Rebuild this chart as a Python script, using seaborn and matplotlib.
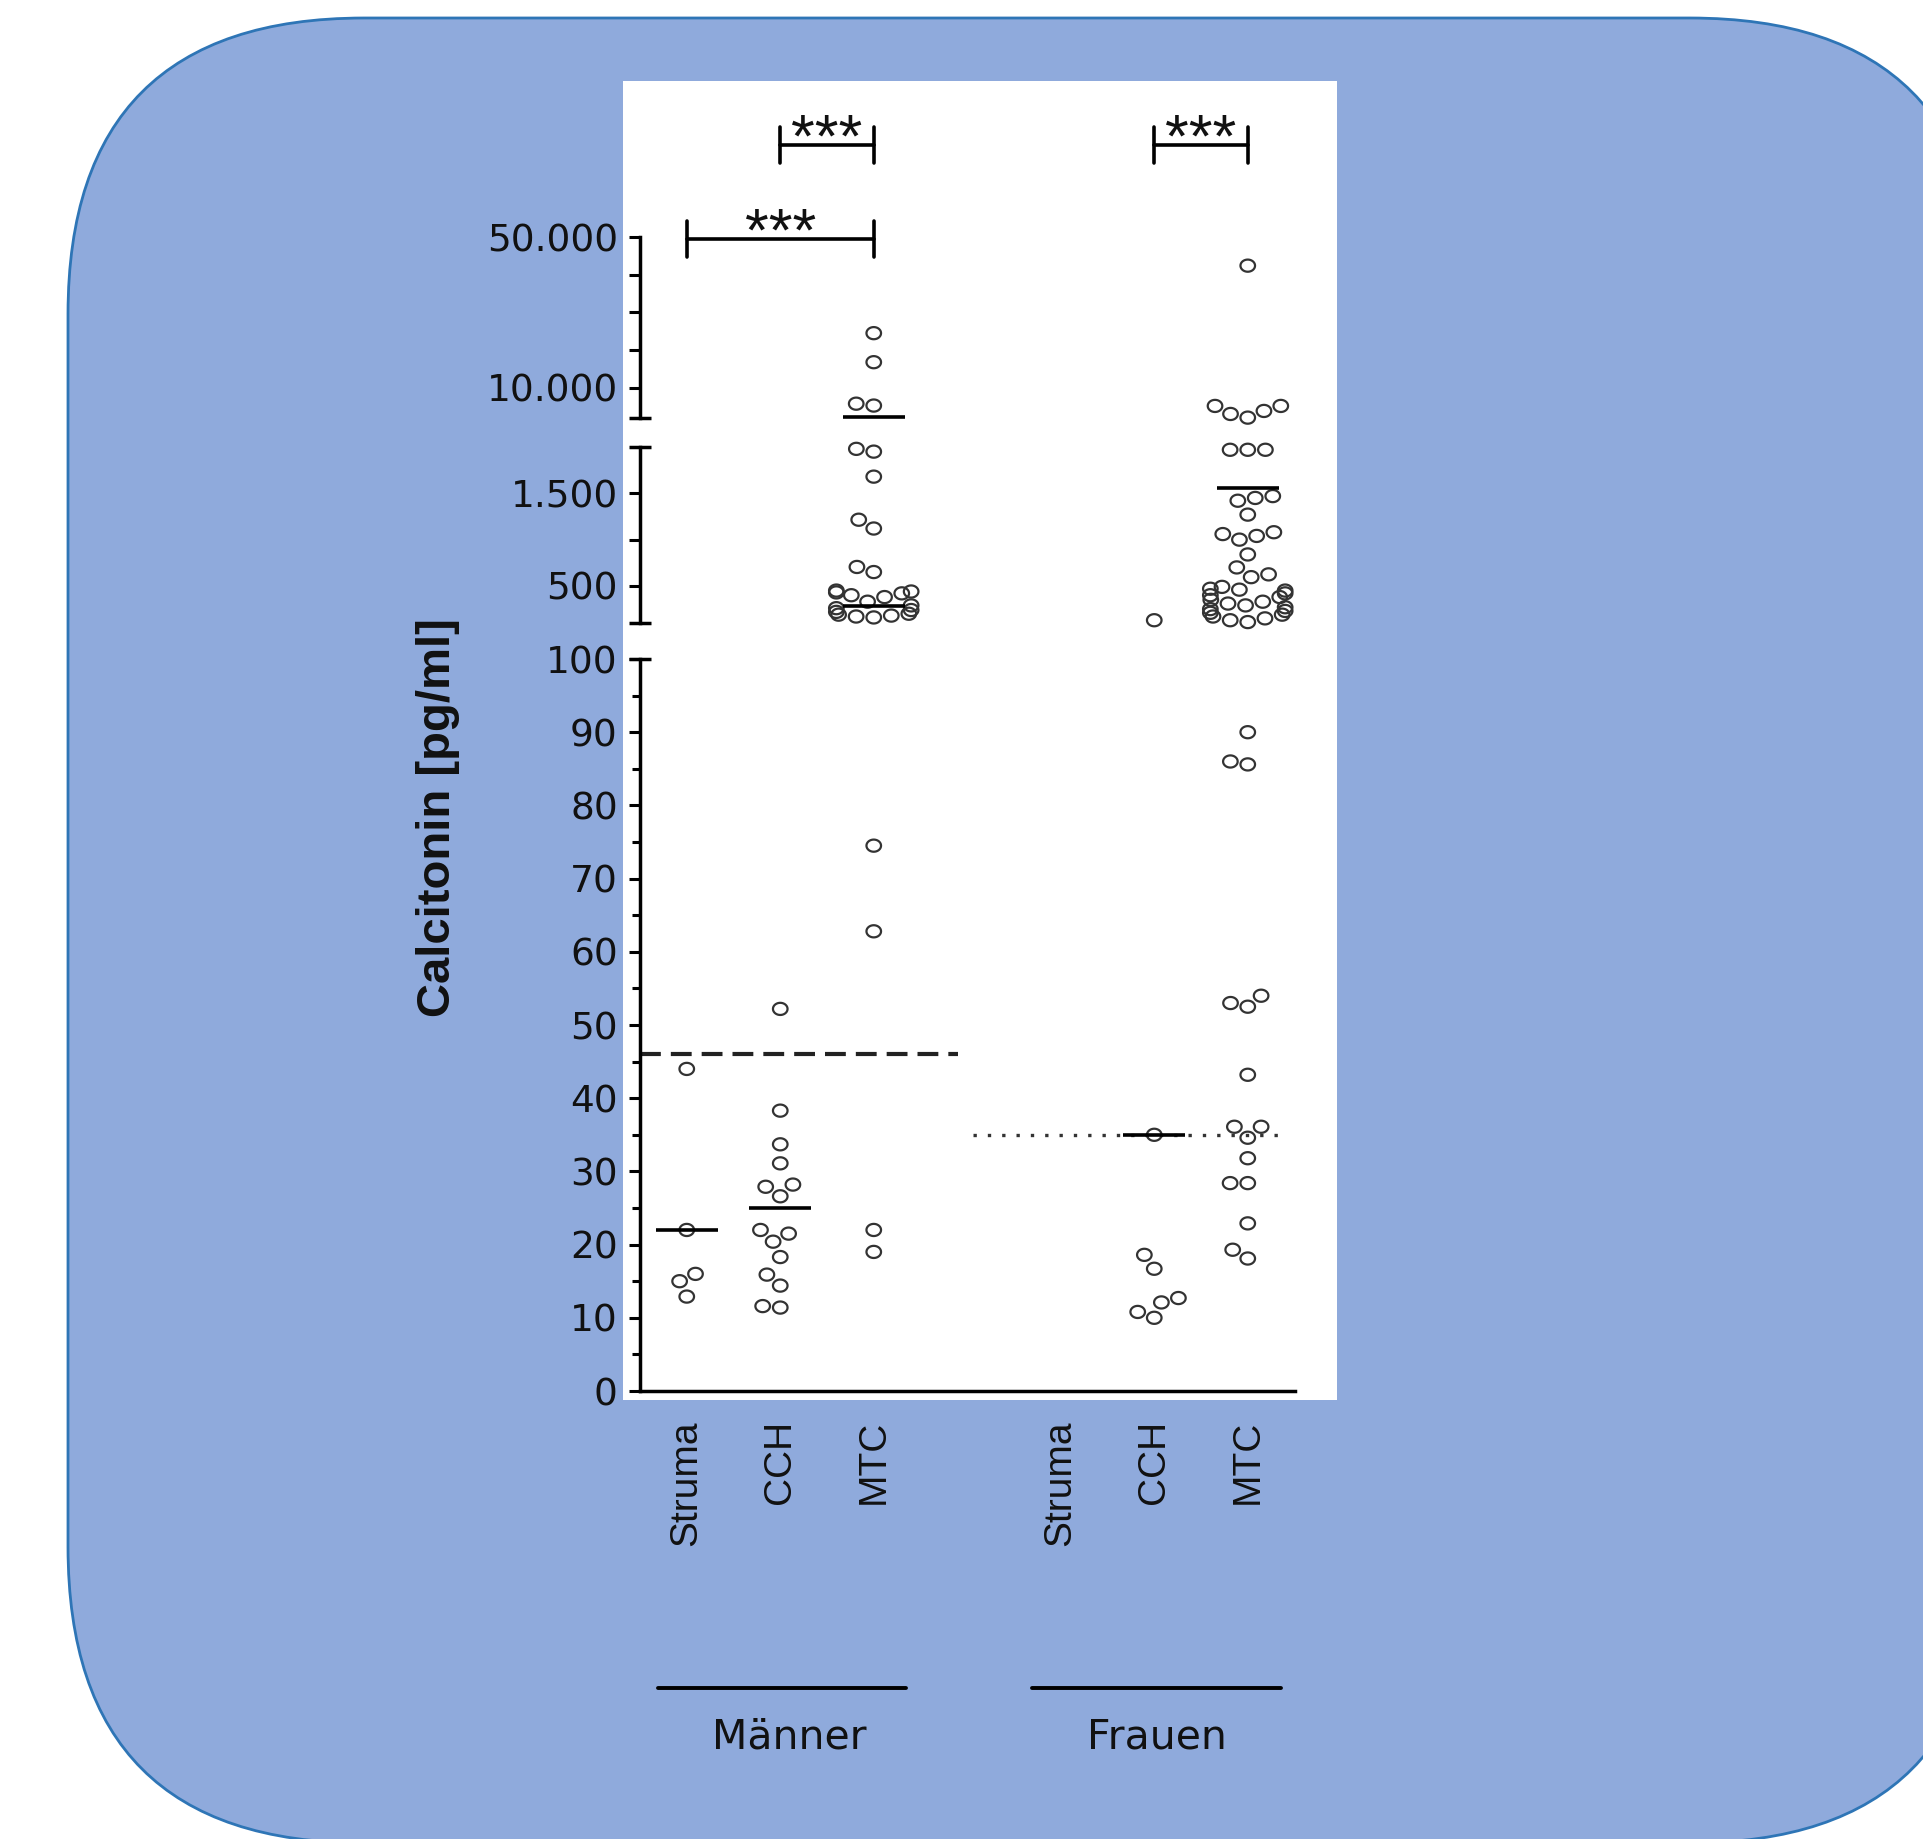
import numpy as np
import pandas as pd
import matplotlib
matplotlib.use("Agg")
import matplotlib.pyplot as plt
from matplotlib.patches import FancyBboxPatch, Rectangle
from matplotlib.path import Path
from matplotlib.ticker import MultipleLocator
import seaborn as sns

# Gruppen (mit Luecke zwischen Maennern und Frauen)
kategorien = ["M Struma", "M CCH", "M MTC", "luecke", "F Struma", "F CCH", "F MTC"]
tick_pos = [0, 1, 2, 4, 5, 6]
tick_labels = ["Struma", "CCH", "MTC", "Struma", "CCH", "MTC"]

# Calcitonin-Werte [pg/ml]
struma_m = [44.0, 22.0, 16.0, 15.0, 12.9]
cch_m = [52.2, 38.3, 33.7, 31.1, 28.2, 27.9, 26.6, 22.0, 21.5, 20.4, 18.3, 15.9, 14.4, 11.4, 11.6]
mtc_m = [24500, 16800, 5800, 5300, 1980, 1950, 1680, 1215, 1120, 705, 650,
         450, 440, 430, 420, 400, 380, 330, 290, 260, 240, 220, 200, 190, 180, 170, 160,
         74.5, 62.8, 22.0, 19.0]
struma_f = []
cch_f = [130, 35.0, 18.6, 16.7, 12.7, 12.1, 10.8, 10.0]
mtc_f = [42400, 5200, 5200, 3870, 3070, 2100,
         1970, 1970, 1970, 1470, 1450, 1420, 1270, 1080, 1060, 1040, 1000, 840, 700, 625, 595,
         490, 470, 460, 450, 420, 400, 380, 350, 330, 310, 290, 270, 250, 230, 210, 190, 170,
         150, 130, 110,
         90, 86, 85.6, 54, 53, 52.5, 43.2, 36.1, 36.1, 34.6, 31.8, 28.4, 28.4, 22.9, 19.3, 18.1]

# Mittelwert-Striche und zweiter Strich bei MTC Maenner
mittelwerte = [22, 25, 2240, None, None, 35, 1560]
zweiter_strich = [None, None, 280, None, None, None, None]

# Referenzlinien
grenze_m = 46
grenze_f = 35

# Signifikanz-Klammern
klammer_von = [0, 1, 5]
klammer_bis = [2, 2, 6]
klammer_y = [49500, 74400, 74400]
klammer_text = ["***", "***", "***"]

# Achsensegmente (unten, mitte, oben)
segmente = [(0, 100), (100, 2000), (2000, 50000)]

werte = {"M Struma": struma_m, "M CCH": cch_m, "M MTC": mtc_m,
         "F Struma": struma_f, "F CCH": cch_f, "F MTC": mtc_f}
df = pd.DataFrame([(g, w) for g, ws in werte.items() for w in ws], columns=["gruppe", "wert"])

sns.set_style("ticks")
plt.rcParams["font.family"] = ["DejaVu Sans"]
plt.rcParams["text.color"] = "black"

W, H = 1924, 1839
fig = plt.figure(figsize=(W / 100, H / 100), dpi=100)
fig.patch.set_facecolor("white")

# Hintergrund: abgerundetes Rechteck und weisses Feld
ax_bg = fig.add_axes([0, 0, 1, 1], zorder=-10)
ax_bg.set_xlim(0, W)
ax_bg.set_ylim(H, 0)
ax_bg.axis("off")
ax_bg.add_patch(FancyBboxPatch((68, 18), 1986 - 68, 1843 - 18,
                               boxstyle="round,pad=0,rounding_size=296",
                               fc="#8FAADC", ec="#2E75B6", lw=2))
ax_bg.add_patch(Rectangle((623, 81), 714, 1319, fc="white", ec="none"))


def px_axes(x0, x1, y_top, y_bot):
    return fig.add_axes([x0 / W, 1 - y_bot / H, (x1 - x0) / W, (y_bot - y_top) / H])


ax_bot = px_axes(640, 1294.5, 659, 1391)
ax_mid = px_axes(640, 1294.5, 447, 623)
ax_top = px_axes(640, 1294.5, 237, 418)
achsen = [ax_bot, ax_mid, ax_top]

t = np.linspace(0, 2 * np.pi, 41)
ellipse = Path(np.column_stack([1.2 * np.cos(t), np.sin(t)]), closed=True)

for ax, (lo, hi) in zip(achsen, segmente):
    if lo == 0:
        sub = df[df["wert"] <= hi]
    else:
        sub = df[(df["wert"] > lo) & (df["wert"] <= hi)]
    sns.swarmplot(data=sub, x="gruppe", y="wert", order=kategorien, ax=ax,
                  size=10.5, marker=ellipse, color="#333333", facecolor="none",
                  edgecolor="#333333", linewidth=1.6, warn_thresh=1, zorder=3)
    for coll in list(ax.collections):
        if len(coll.get_offsets()) == 0:
            coll.remove()
        else:
            coll.set_clip_on(False)
    ax.set_xlim(-0.5, 6.5)
    ax.set_ylim(lo, hi)
    ax.set_xlabel("")
    ax.set_ylabel("")
    ax.patch.set_visible(False)
    for s in ["top", "right"]:
        ax.spines[s].set_visible(False)
    ax.spines["left"].set_linewidth(2.5)
    ax.spines["left"].set_color("black")
    ax.tick_params(axis="y", which="major", length=8, width=2.2, pad=8,
                   labelsize=27, colors="black", labelcolor="#111111")
    # Mittelwert-Striche
    for i, (m, m2) in enumerate(zip(mittelwerte, zweiter_strich)):
        for v in (m, m2):
            if v is not None and lo <= v <= hi:
                ax.plot([i - 0.33, i + 0.33], [v, v], color="black", lw=2.6,
                        solid_capstyle="butt", zorder=4, clip_on=False)


def kappe(ax, y):
    ax.plot([-0.017, 0.017], [y, y], transform=ax.get_yaxis_transform(),
            color="black", lw=2.5, clip_on=False, solid_capstyle="butt")


# oberes Segment
ax_top.spines["bottom"].set_visible(False)
ax_top.set_xticks([])
ax_top.set_yticks([10000, 20000, 30000, 40000, 50000],
                  ["10.000", "", "", "", "50.000"])
kappe(ax_top, 2000)

# mittleres Segment
ax_mid.spines["bottom"].set_visible(False)
ax_mid.set_xticks([])
ax_mid.set_yticks([500, 1000, 1500], ["500", "", "1.500"])
kappe(ax_mid, 100)
kappe(ax_mid, 2000)

# unteres Segment
ax_bot.set_yticks(np.arange(0, 101, 10))
ax_bot.yaxis.set_minor_locator(MultipleLocator(5))
ax_bot.tick_params(axis="y", which="minor", length=6, width=2.2, color="black")
ax_bot.spines["bottom"].set_linewidth(2.5)
ax_bot.spines["bottom"].set_color("black")
ax_bot.set_xticks(tick_pos, tick_labels)
ax_bot.tick_params(axis="x", length=0, pad=21)
for lab in ax_bot.get_xticklabels():
    lab.set_rotation(90)
    lab.set_fontsize(28)
    lab.set_family("Liberation Sans")
    lab.set_color("#111111")
kappe(ax_bot, 100)

# Referenzlinien
ax_bot.plot([-0.5, 2.9], [grenze_m, grenze_m], color="#222222", lw=3,
            dashes=(5, 2.4), zorder=2)
ax_bot.plot([3.06, 6.43], [grenze_f, grenze_f], color="#333333", lw=2.4,
            dashes=(1, 3.3), zorder=2)

# Signifikanz-Klammern
for x0, x1, y, txt in zip(klammer_von, klammer_bis, klammer_y, klammer_text):
    ax_top.plot([x0, x1], [y, y], color="black", lw=2.6, clip_on=False)
    for xe in (x0, x1):
        ax_top.plot([xe, xe], [y - 4700, y + 4700], color="black", lw=2.6, clip_on=False)
    ax_top.annotate(txt, xy=((x0 + x1) / 2, y), xytext=(0, -8), textcoords="offset points",
                    ha="center", va="baseline", fontsize=44,
                    family="Liberation Sans", color="#111111", annotation_clip=False)

# Gruppenbeschriftung
tr = ax_bot.get_xaxis_transform()
ax_bot.plot([-0.31, 2.35], [-0.4057, -0.4057], transform=tr, color="black", lw=2.8, clip_on=False)
ax_bot.plot([3.69, 6.36], [-0.4057, -0.4057], transform=tr, color="black", lw=2.8, clip_on=False)
ax_bot.text(1.1, -0.4727, "Männer", transform=tr, ha="center", va="center",
            fontsize=29.5, color="#111111")
ax_bot.text(5.03, -0.4727, "Frauen", transform=tr, ha="center", va="center",
            fontsize=29.5, color="#111111")

fig.text(438 / W, 1 - 818 / H, "Calcitonin [pg/ml]", rotation=90, ha="center", va="center",
         fontsize=34, fontweight="bold", family="Liberation Sans", color="#111111")

fig.savefig("out.png", dpi=100)
